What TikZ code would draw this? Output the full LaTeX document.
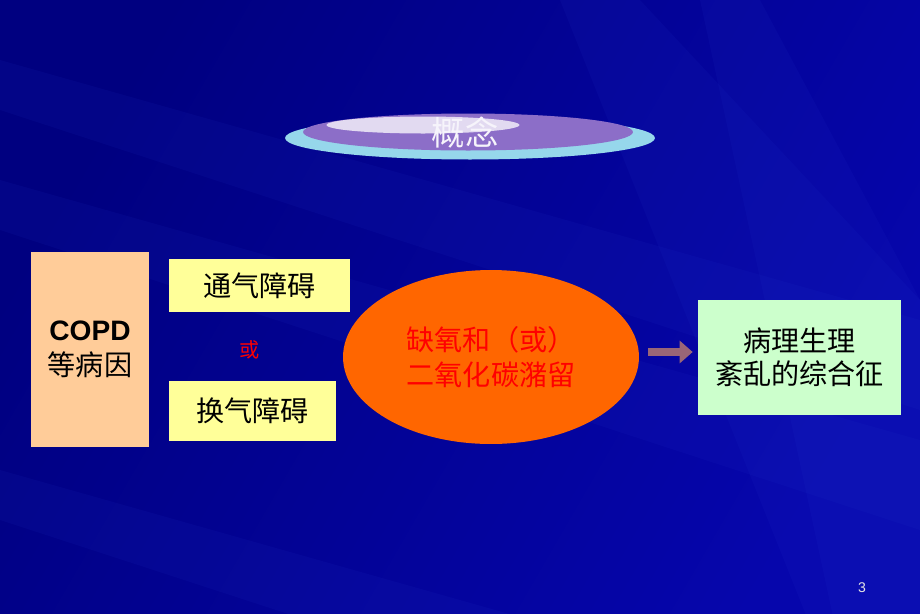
\documentclass[tikz,border=0pt]{standalone}
\usepackage{fontspec}
\setmainfont{Liberation Sans}
\newfontfamily\cjk{Noto Sans CJK SC}
\usepackage{tikz}
\usetikzlibrary{shapes.geometric, arrows.meta, positioning}
\definecolor{navy}{RGB}{0,0,128}
\definecolor{slideblue}{RGB}{6,6,172}
\definecolor{streak}{RGB}{40,60,210}
\definecolor{peach}{RGB}{255,204,153}
\definecolor{paleyellow}{RGB}{255,255,153}
\definecolor{palegreen}{RGB}{204,255,204}
\definecolor{blobfill}{RGB}{255,102,0}
\definecolor{mauve}{RGB}{153,102,119}
\definecolor{pillcyan}{RGB}{150,215,235}
\definecolor{pillpurple}{RGB}{140,110,200}
\tikzset{
    box/.style  = {rectangle, inner sep=0pt, align=center, font=\cjk\fontsize{16}{19}\selectfont},
    cause/.style = {box, fill=peach, minimum width=2.36cm, minimum height=3.9cm},
    step1/.style = {box, fill=paleyellow, minimum height=1.06cm},
    result/.style = {box, fill=palegreen, minimum width=4.06cm, minimum height=2.3cm},
    blob/.style = {ellipse, fill=blobfill, inner sep=0pt, minimum width=5.92cm, minimum height=3.48cm,
                   align=center, text=red, font=\cjk\fontsize{16}{20}\selectfont},
    flow/.style = {draw=mauve, line width=0.17cm, -{Triangle[length=0.26cm, width=0.44cm]}}
}
\begin{document}
\begin{tikzpicture}[x=0.02cm, y=-0.02cm]
  % background
  \shade[left color=navy, right color=slideblue, shading angle=60] (0,0) rectangle (920,613);
  \useasboundingbox (0,0) rectangle (920,613);
  \foreach \a/\b/\c/\d in {0/60/0/110, 0/180/0/230, 0/470/0/520, 560/0/640/0, 700/0/760/0}
    \fill[streak, opacity=0.09] (\a,\b) -- (920,{\b+260+\c}) -- (920,{\d+300}) -- (\c,\d) -- cycle;

  % title pill
  \node (pill) [ellipse, fill=pillcyan, minimum width=7.4cm, minimum height=0.86cm] at (470,138) {};
  \node (pillin) [ellipse, fill=pillpurple, minimum width=6.6cm, minimum height=0.74cm] at (468,132) {};
  \node (shine) [ellipse, fill=white, fill opacity=0.75, minimum width=3.86cm, minimum height=0.34cm] at (423,125) {};
  \node (title) [text=white!92!pillpurple, font=\cjk\fontsize{19}{22}\selectfont] at (465,133) {概念};

  % boxes
  \node (copd) [cause, font=\cjk\fontsize{16}{20}\selectfont] at (90,349.5) {{\normalfont\bfseries COPD}\\等病因};
  \node (vent) [step1, minimum width=3.62cm] at (259.5,285.5) {通气障碍};
  \node (or) [text=red, font=\cjk\fontsize{11.5}{13}\selectfont] at (250,350) {或};
  \node (diff) [step1, minimum width=3.34cm, minimum height=1.2cm] at (252.5,411) {换气障碍};
  \node (hypox) [blob] at (491,357) {缺氧和（或）\\二氧化碳潴留};
  \node (syndr) [result, font=\cjk\fontsize{16}{18.5}\selectfont] at (799.5,357.5) {病理生理\\紊乱的综合征};
  \draw[flow, shorten <=0.18cm, shorten >=0.1cm] (hypox.east |- 0,352) -- (syndr.west |- 0,352);

  \node (page) [text=gray!20, font=\fontsize{8}{10}\selectfont] at (862,588) {3};
\end{tikzpicture}
\end{document}
